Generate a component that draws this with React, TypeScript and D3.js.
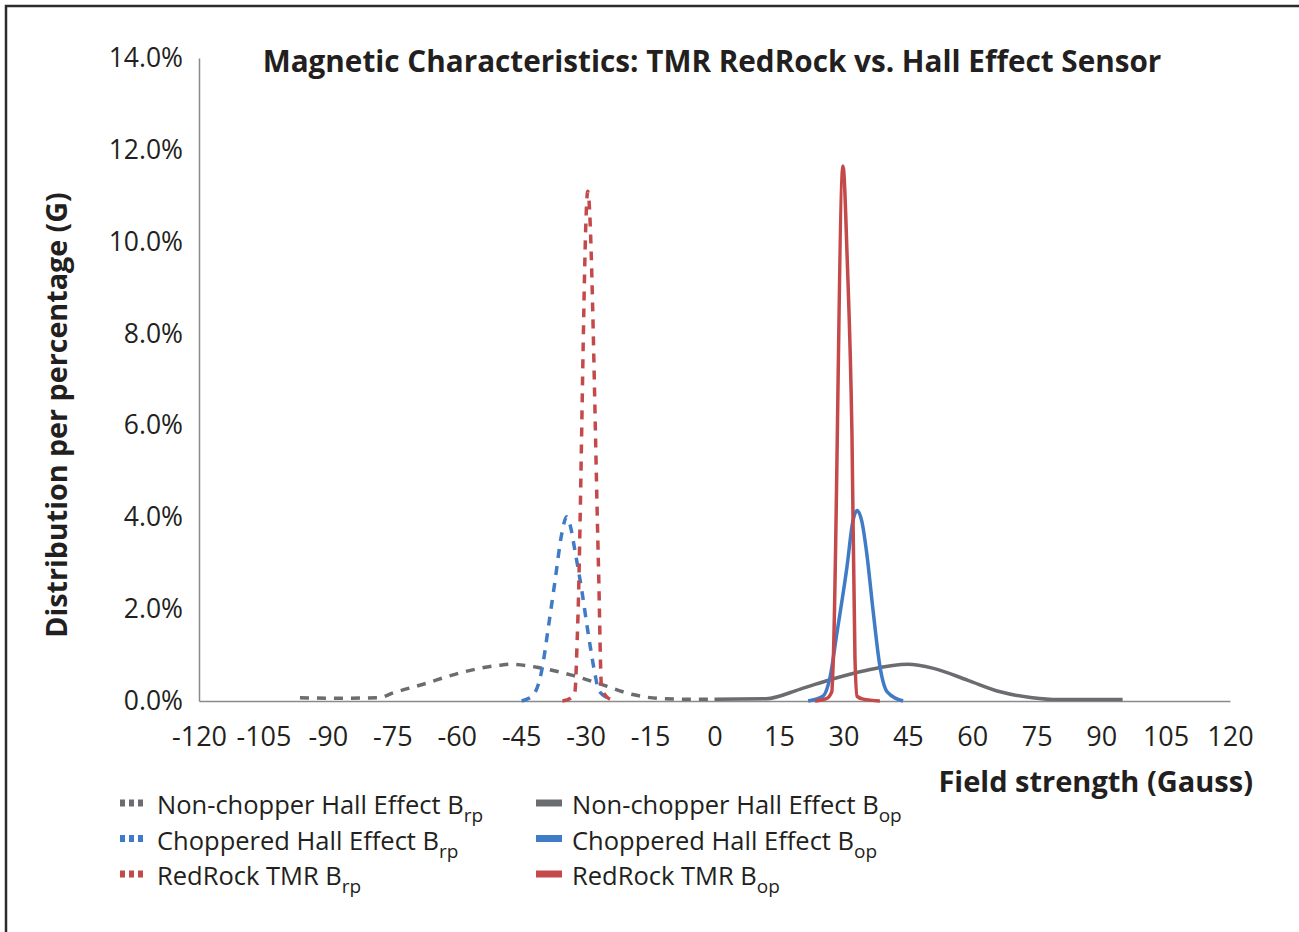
import * as d3 from "d3";
import { useEffect, useRef } from "react";

// values: [field strength (G), distribution (%)]
const nonChopperBrp: [number, number][] = [
  [-96.5, 0.07], [-88, 0.06], [-78, 0.07], [-75, 0.17], [-68, 0.36],
  [-58.5, 0.63], [-50, 0.78], [-47.5, 0.8], [-40.5, 0.72], [-33.5, 0.57],
  [-26, 0.35], [-19, 0.14], [-12, 0.05], [-6, 0.04], [0, 0.04],
];
const nonChopperBop: [number, number][] = [
  [0, 0.04], [12, 0.05], [20, 0.26], [27.5, 0.48], [35.5, 0.67],
  [45, 0.8], [51, 0.71], [59, 0.45], [66.5, 0.2], [74, 0.07],
  [80, 0.03], [88, 0.03], [95, 0.03],
];
const choppedBrp: [number, number][] = [
  [-44.9, 0], [-42.2, 0.13], [-40.2, 0.67], [-38.7, 1.59], [-37.1, 2.63],
  [-35.6, 3.62], [-34.4, 4.01], [-33.6, 3.83], [-32.5, 3.28], [-30.9, 2.41],
  [-29.4, 1.47], [-27.8, 0.58], [-27.0, 0.24], [-24.7, 0.06],
];
const choppedBop: [number, number][] = [
  [21.8, 0], [25.3, 0.11], [26.9, 0.52], [28.5, 1.48], [30.85, 2.93],
  [32.2, 3.91], [33.2, 4.15], [34.3, 3.91], [35.5, 3.17], [36.9, 1.98],
  [38.5, 0.76], [40.2, 0.2], [43.9, 0],
];
const redRockBrp: [number, number][] = [
  [-35.4, 0], [-33.5, 0.06], [-32.5, 0.2], [-31.9, 1.5], [-29.5, 11.1],
  [-27.0, 2.9], [-26.3, 0.3], [-25.0, 0.08], [-23.6, 0.02],
];
const redRockBop: [number, number][] = [
  [23.4, 0], [26, 0.05], [27.3, 0.2], [27.6, 0.76], [29.9, 11.65],
  [30.9, 9.6], [32.0, 5.8], [32.7, 0.93], [33.2, 0.1], [34.6, 0.04], [38.5, 0],
];

const xTicks = d3.range(-120, 121, 15);
const yTicks = [0, 2, 4, 6, 8, 10, 12, 14];

const series = [
  { name: "Non-chopper Hall Effect B", sub: "rp", data: nonChopperBrp, color: "#6b6c6f", dashed: true },
  { name: "Non-chopper Hall Effect B", sub: "op", data: nonChopperBop, color: "#6b6c6f", dashed: false },
  { name: "Choppered Hall Effect B", sub: "rp", data: choppedBrp, color: "#3f7bc6", dashed: true },
  { name: "Choppered Hall Effect B", sub: "op", data: choppedBop, color: "#3f7bc6", dashed: false },
  { name: "RedRock TMR B", sub: "rp", data: redRockBrp, color: "#c4494a", dashed: true },
  { name: "RedRock TMR B", sub: "op", data: redRockBop, color: "#c4494a", dashed: false },
];

const font = "'Open Sans', sans-serif";
const ink = "#231f20";
const margin = { top: 58, left: 199, right: 69, bottom: 231 };
const W = 1299;
const H = 932;

function createChart(el: SVGSVGElement) {
  const svg = d3.select(el);
  svg.selectAll("*").remove();

  const x = d3.scaleLinear().domain([-120, 120]).range([margin.left, W - margin.right]);
  const y = d3.scaleLinear().domain([0, 14]).range([H - margin.bottom, margin.top]);

  // outer frame (only left and top are visible)
  svg
    .append("path")
    .attr("d", `M6,${H + 5}V6H${W + 5}`)
    .attr("fill", "none")
    .attr("stroke", "#2b2b2b")
    .attr("stroke-width", 2.5);

  // title
  svg
    .append("text")
    .attr("x", 712)
    .attr("y", 72)
    .attr("text-anchor", "middle")
    .style("font-family", font)
    .style("font-weight", 700)
    .style("font-size", "29.7px")
    .style("fill", ink)
    .text("Magnetic Characteristics: TMR RedRock vs. Hall Effect Sensor");

  // y axis
  const yAxis = svg
    .append("g")
    .attr("transform", `translate(${margin.left},0)`)
    .call(
      d3
        .axisLeft(y)
        .tickValues(yTicks)
        .tickSize(0)
        .tickPadding(16)
        .tickFormat((d) => (d as number).toFixed(1) + "%")
    );
  yAxis.select(".domain").attr("stroke", "#8a8a8a").attr("stroke-width", 1.5);
  yAxis
    .selectAll("text")
    .style("font-family", font)
    .style("font-size", "26.5px")
    .style("fill", ink);

  // x axis
  const xAxis = svg
    .append("g")
    .attr("transform", `translate(0,${H - margin.bottom})`)
    .call(
      d3
        .axisBottom(x)
        .tickValues(xTicks)
        .tickSize(0)
        .tickPadding(26)
        .tickFormat((d) => String(d))
    );
  xAxis.select(".domain").attr("stroke", "#8a8a8a").attr("stroke-width", 1.5);
  xAxis
    .selectAll("text")
    .style("font-family", font)
    .style("font-size", "27px")
    .style("fill", ink);

  // axis titles
  svg
    .append("text")
    .attr("transform", "translate(67,415) rotate(-90)")
    .attr("text-anchor", "middle")
    .style("font-family", font)
    .style("font-weight", 700)
    .style("font-size", "28.7px")
    .style("fill", ink)
    .text("Distribution per percentage (G)");

  svg
    .append("text")
    .attr("x", 1253)
    .attr("y", 792)
    .attr("text-anchor", "end")
    .style("font-family", font)
    .style("font-weight", 700)
    .style("font-size", "29px")
    .style("fill", ink)
    .text("Field strength (Gauss)");

  // lines
  const line = d3
    .line<[number, number]>()
    .x((d) => x(d[0]))
    .y((d) => y(d[1]))
    .curve(d3.curveMonotoneX);

  svg
    .append("g")
    .selectAll("path")
    .data(series)
    .enter()
    .append("path")
    .attr("d", (d) => line(d.data))
    .attr("fill", "none")
    .attr("stroke", (d) => d.color)
    .attr("stroke-width", 3.5)
    .attr("stroke-linejoin", "round")
    .attr("stroke-dasharray", (d) => (d.dashed ? "9 8" : null));

  // legend: dashed series in the left column, solid in the right
  const legend = svg
    .append("g")
    .selectAll("g")
    .data(series)
    .enter()
    .append("g")
    .attr("transform", (d, i) => {
      const col = i % 2;
      const row = Math.floor(i / 2);
      return `translate(${col === 0 ? 120 : 536},${803 + row * 35.5})`;
    });

  legend
    .append("line")
    .attr("x1", 0)
    .attr("x2", (d) => (d.dashed ? 24 : 26))
    .attr("y1", 0)
    .attr("y2", 0)
    .attr("stroke", (d) => d.color)
    .attr("stroke-width", 7)
    .attr("stroke-dasharray", (d) => (d.dashed ? "5 4" : null));

  const label = legend
    .append("text")
    .attr("x", (d) => (d.dashed ? 37 : 36))
    .attr("y", 11)
    .style("font-family", font)
    .style("font-size", "25.5px")
    .style("fill", ink);
  label.append("tspan").text((d) => d.name);
  label
    .append("tspan")
    .attr("dy", 8)
    .style("font-size", "19px")
    .text((d) => d.sub);
}

export default function App() {
  const ref = useRef<SVGSVGElement>(null);
  useEffect(() => {
    if (ref.current) createChart(ref.current);
  }, []);
  return (
    <svg
      ref={ref}
      width={W}
      height={H}
      style={{ position: "absolute", left: 0, top: 0, background: "#fff" }}
    />
  );
}
